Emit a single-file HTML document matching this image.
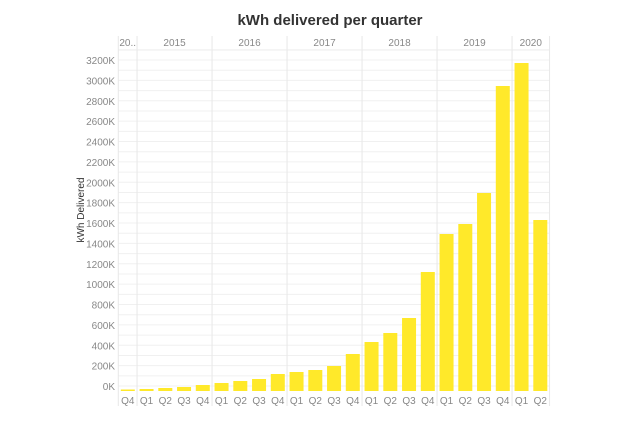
<!DOCTYPE html>
<html><head><meta charset="utf-8"><style>
body{margin:0;background:#fff;width:620px;height:419px;overflow:hidden}
svg text{font-family:"Liberation Sans",sans-serif}
</style></head><body>
<svg id="s" width="620" height="419" xmlns="http://www.w3.org/2000/svg">
<text x="330" y="25" text-anchor="middle" font-size="15" font-weight="bold" fill="#333">kWh delivered per quarter</text>
<text transform="translate(84,210) rotate(-90)" text-anchor="middle" font-size="10" fill="#333">kWh Delivered</text>
</svg>
<script>
var s=document.getElementById('s'),ns='http://www.w3.org/2000/svg',h='';
var L=118.3,W=18.75,top0=36,bot=406;
function y(v){return 386-v/200*20.375;}
for(var v=0;v<=3300;v+=100){h+='<line x1="'+L+'" x2="'+(L+23*W)+'" y1="'+y(v)+'" y2="'+y(v)+'" stroke="#f0f0f0" stroke-width="1"/>';}
for(var v=0;v<=3200;v+=200){h+='<text x="115" y="'+(y(v)+4)+'" text-anchor="end" font-size="10" fill="#888">'+v+'K</text>';}
h+='<line x1="'+L+'" x2="'+(L+23*W)+'" y1="50" y2="50" stroke="#eee"/>';
var seps=[0,1,5,9,13,17,21,23];
seps.forEach(function(i){h+='<line x1="'+(L+i*W)+'" x2="'+(L+i*W)+'" y1="'+top0+'" y2="'+bot+'" stroke="#e8e8e8"/>';});
var yrs=[['20..',0,1],['2015',1,5],['2016',5,9],['2017',9,13],['2018',13,17],['2019',17,21],['2020',21,23]];
yrs.forEach(function(a){var cx=L+(a[1]+a[2])/2*W;h+='<text x="'+cx+'" y="46" text-anchor="middle" font-size="10" fill="#888">'+a[0]+'</text>';});
var tops=[389.5,389,388,387,385,383,381,379,374,372,370,366,354,342,333,318,272,234,224,193,86,63,220];
var q=['Q4','Q1','Q2','Q3'];
tops.forEach(function(t,i){var x=L+i*W+2.5;h+='<rect x="'+x+'" y="'+t+'" width="14" height="'+(391-t)+'" fill="#ffe92a"/>';
h+='<text x="'+(x+7)+'" y="404" text-anchor="middle" font-size="10" fill="#888">'+q[i%4]+'</text>';});
s.insertAdjacentHTML('beforeend',h);
</script>
</body></html>
